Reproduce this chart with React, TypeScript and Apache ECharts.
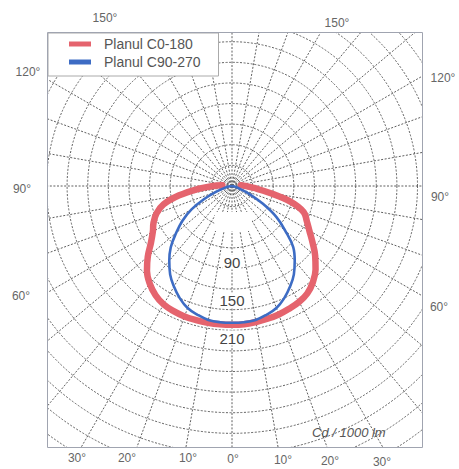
import React, { useEffect, useRef } from "react";
import * as echarts from "echarts";

// gamma angles (deg from nadir) and intensities (cd/1000 lm)
const redGamma = [0, 5, 10, 15, 20, 25, 30, 35, 40, 45, 50, 55, 60, 65, 70, 75, 80, 85, 90, 95];
const redC0 = [202, 202, 201, 200, 199, 197, 195, 191, 183, 172, 158, 143, 130, 120, 111, 88, 54, 32, 20, 13];
const redC180 = [202, 202, 202, 202, 202, 201, 199, 194, 186, 175, 160, 144, 133, 126, 117, 103, 78, 50, 28, 14];

const blueGamma = [0, 5, 10, 15, 20, 25, 30, 35, 40, 45, 50, 55, 60, 65, 70, 75, 80, 85];
const blueC90 = [199, 199, 198, 194, 189, 180, 169, 157, 142, 126, 101, 79, 52, 28, 12, 5, 2, 0];
const blueC270 = [199, 199, 198, 194, 189, 180, 169, 157, 142, 126, 106, 88, 68, 44, 25, 12, 5, 0];

const seriesNames = ["Planul C0-180", "Planul C90-270"];
const ringLabels = ["90", "150", "210"];
const unitLabel = "Cd / 1000 lm";

function planeData(angles: number[], right: number[], left: number[]) {
  const pts: number[][] = [];
  for (let i = angles.length - 1; i >= 0; i--) pts.push([left[i], 360 - angles[i]]);
  for (let i = 1; i < angles.length; i++) pts.push([right[i], angles[i]]);
  return pts;
}

export default function App() {
  const ref = useRef<HTMLDivElement>(null);
  useEffect(() => {
    document.body.style.margin = "0";
    const chart = echarts.init(ref.current!, null, { renderer: "svg" });
    const font = "'Liberation Sans', Arial, sans-serif";
    const gridLine = { color: "#5f5f5f", width: 1, type: [2, 1.6] as any };
    const lbl = (text: string, x: number, y: number, size = 12) => ({
      type: "text",
      x,
      y,
      z: 102,
      silent: true,
      style: { text, fill: "#666", font: `${size}px ${font}`, textAlign: "center", textVerticalAlign: "middle" },
    });
    const ringY = [262, 300, 338];
    chart.setOption({
      animation: false,
      backgroundColor: "#fff",
      polar: { center: [232, 186], radius: 329.8 },
      radiusAxis: {
        type: "value",
        min: 0,
        max: 480,
        interval: 30,
        axisLine: { show: false },
        axisTick: { show: false },
        axisLabel: { show: false },
        splitLine: { show: true, lineStyle: gridLine },
      },
      angleAxis: {
        type: "value",
        min: 0,
        max: 360,
        interval: 10,
        startAngle: 270,
        clockwise: false,
        axisLine: { show: false },
        axisTick: { show: false },
        axisLabel: { show: false },
        splitLine: { show: true, lineStyle: gridLine },
      },
      legend: {
        orient: "vertical",
        left: 48,
        top: 33,
        data: seriesNames,
        icon: "rect",
        itemWidth: 22,
        itemHeight: 5,
        itemGap: 4,
        padding: [4, 18, 7, 21],
        backgroundColor: "#fff",
        borderColor: "#aaa",
        borderWidth: 1,
        borderRadius: 0,
        textStyle: { fontSize: 14, color: "#555", fontFamily: font, padding: [0, 0, 0, 8] },
      },
      series: [
        {
          name: seriesNames[0],
          type: "line",
          coordinateSystem: "polar",
          data: planeData(redGamma, redC0, redC180),
          smooth: 0.4,
          symbol: "none",
          itemStyle: { color: "#e5646e" },
          lineStyle: { color: "#e5646e", width: 6.5, cap: "round" },
          z: 3,
        },
        {
          name: seriesNames[1],
          type: "line",
          coordinateSystem: "polar",
          data: planeData(blueGamma, blueC90, blueC270),
          smooth: 0.4,
          symbol: "none",
          itemStyle: { color: "#3d6cc4" },
          lineStyle: { color: "#3d6cc4", width: 2.6 },
          z: 4,
        },
      ],
      graphic: [
        { type: "rect", z: 1, silent: true, shape: { x: 215, y: 212, width: 37, height: 19 }, style: { fill: "#fff" } },
        { type: "rect", z: 100, silent: true, shape: { x: 0, y: 0, width: 459, height: 32 }, style: { fill: "#fff" } },
        { type: "rect", z: 100, silent: true, shape: { x: 0, y: 448, width: 459, height: 21 }, style: { fill: "#fff" } },
        { type: "rect", z: 100, silent: true, shape: { x: 0, y: 0, width: 47, height: 469 }, style: { fill: "#fff" } },
        { type: "rect", z: 100, silent: true, shape: { x: 423, y: 0, width: 36, height: 469 }, style: { fill: "#fff" } },
        {
          type: "rect",
          z: 101,
          silent: true,
          shape: { x: 47.5, y: 32.5, width: 375, height: 415 },
          style: { fill: "none", stroke: "#a0a4b0", lineWidth: 1 },
        },
        ...ringLabels.map((t, i) => ({
          type: "text",
          x: 232,
          y: ringY[i],
          z: 5,
          silent: true,
          style: {
            text: t,
            fill: "#444",
            font: `15px 'Liberation Sans Narrow', ${font}`,
            textAlign: "center",
            textVerticalAlign: "middle",
            backgroundColor: "#fff",
            padding: [0, 1],
          },
        })),
        {
          type: "text",
          x: 312,
          y: 432,
          z: 5,
          silent: true,
          style: { text: unitLabel, fill: "#555", font: `italic 13px ${font}`, textAlign: "left", textVerticalAlign: "middle" },
        },
        lbl("150°", 105, 18),
        lbl("150°", 337, 23),
        lbl("120°", 28, 72),
        lbl("120°", 443, 78),
        lbl("90°", 22, 189),
        lbl("90°", 440, 197),
        lbl("60°", 21, 296),
        lbl("60°", 439, 307),
        lbl("30°", 77, 458),
        lbl("20°", 127, 458),
        lbl("10°", 188, 458),
        lbl("0°", 233, 459),
        lbl("10°", 283, 460),
        lbl("20°", 330, 461),
        lbl("30°", 382, 462),
      ],
    });
    return () => chart.dispose();
  }, []);
  return <div ref={ref} style={{ width: 459, height: 469, background: "#fff" }} />;
}
